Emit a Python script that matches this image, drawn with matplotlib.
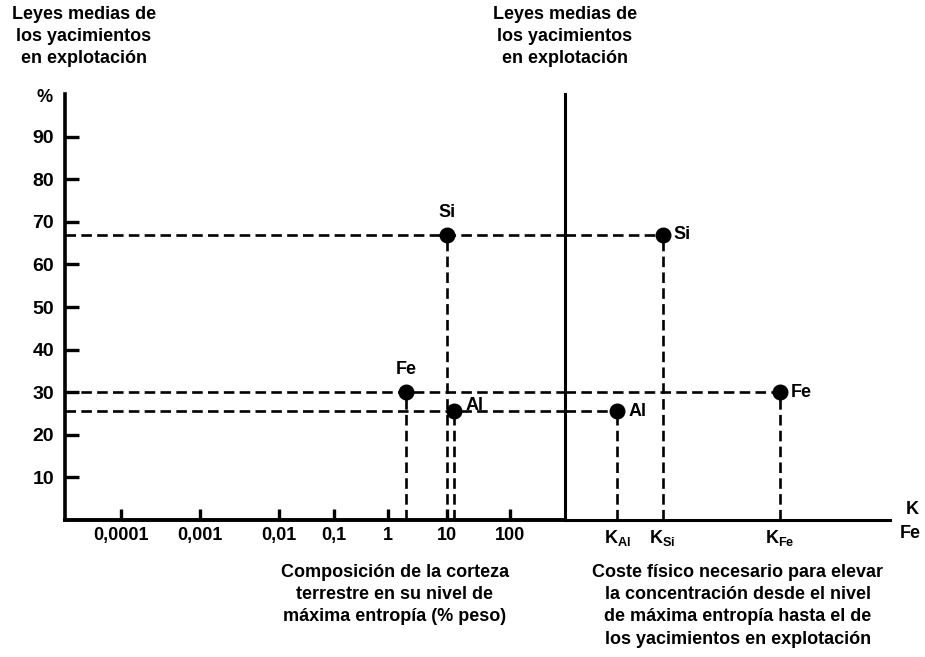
import matplotlib.pyplot as plt
import numpy as np

plt.rcParams['font.family'] = ['Liberation Sans', 'DejaVu Sans']
plt.rcParams['font.weight'] = 'bold'
plt.rcParams['mathtext.default'] = 'regular'

# datos
elementos = ["Si", "Fe", "Al"]
ley_media = [67, 30, 25.5]          # % en yacimientos en explotacion
corteza = [10, 2, 13]               # % peso en la corteza (nivel de maxima entropia)
coste_k = [3.0, 6.6, 1.6]           # coste fisico K (unidades arbitrarias)
k_labels = ["K$_{Si}$", "K$_{Fe}$", "K$_{Al}$"]

y_ticks = [10, 20, 30, 40, 50, 60, 70, 80, 90]
x_ticks = [0.0001, 0.001, 0.01, 0.1, 1, 10, 100]
x_ticklabels = ["0,0001", "0,001", "0,01", "0,1", "1", "10", "100"]

# escala dibujada a mano: posicion de cada decada en el original
dec_log = np.array([-5, -4, -3, -2, -1, 0, 1, 2, 3])
dec_pos = np.array([42, 121, 200, 279, 334, 388, 447, 510, 573])


def fwd(x):
    x = np.clip(np.asarray(x, dtype=float), 1e-12, None)
    return np.interp(np.log10(x), dec_log, dec_pos)


def inv(p):
    return 10 ** np.interp(p, dec_pos, dec_log)


W, H = 925, 657
fig = plt.figure(figsize=(W / 100, H / 100), dpi=100)

x0, xv, xe = 65, 565, 890
ytop, ybot = 94, 520
ax1 = fig.add_axes([x0 / W, 1 - ybot / H, (xv - x0) / W, (ybot - ytop) / H])
ax2 = fig.add_axes([xv / W, 1 - ybot / H, (xe - xv) / W, (ybot - ytop) / H], sharey=ax1)

dash = (0, (4, 2))
lw_d = 1.9
fs = 13

ax1.set_xscale('function', functions=(fwd, inv))
ax1.set_xlim(inv(x0), inv(xv))
ax1.set_ylim(0, 100)
ax2.set_xlim(0, 10)

for ax in (ax1, ax2):
    ax.patch.set_alpha(0)
    ax.spines['top'].set_visible(False)
    ax.spines['right'].set_visible(False)

ax1.spines['left'].set_linewidth(2.6)
ax1.spines['bottom'].set_linewidth(2.8)
ax2.spines['left'].set_linewidth(2.2)
ax2.spines['bottom'].set_linewidth(2.2)

ax1.set_yticks(y_ticks)
ax1.tick_params(axis='y', direction='in', length=10, width=2.4, pad=8, labelsize=14)
ax1.set_xticks(x_ticks)
ax1.set_xticklabels(x_ticklabels)
ax1.minorticks_off()
ax1.tick_params(axis='x', direction='in', length=8, width=2.4, pad=5, labelsize=13)

ax2.tick_params(axis='y', left=False, labelleft=False)
ax2.set_xticks(coste_k)
ax2.set_xticklabels(k_labels)
ax2.tick_params(axis='x', direction='in', length=0, pad=6, labelsize=13)

for nombre, ley, c, k in zip(elementos, ley_media, corteza, coste_k):
    ax1.axhline(ley, color='black', lw=lw_d, ls=dash)
    ax1.plot([c, c], [0, ley], color='black', lw=lw_d, ls=dash)
    ax1.plot(c, ley, 'o', color='black', ms=10.5)
    ax2.plot([0, k], [ley, ley], color='black', lw=lw_d, ls=dash)
    ax2.plot([k, k], [0, ley], color='black', lw=lw_d, ls=dash)
    ax2.plot(k, ley, 'o', color='black', ms=10.5)
    ax2.annotate(nombre, (k, ley), xytext=(8, 0), textcoords='offset points',
                 ha='left', va='center', fontsize=fs)
    if nombre == "Al":
        ax1.annotate(nombre, (c, ley), xytext=(8, 4), textcoords='offset points',
                     ha='left', va='center', fontsize=fs)
    else:
        ax1.annotate(nombre, (c, ley), xytext=(0, 10), textcoords='offset points',
                     ha='center', va='bottom', fontsize=fs)

fig.text(45 / W, 1 - 98 / H, "%", ha='center', va='center', fontsize=fs)
fig.text(84 / W, 1 - 6 / H, "Leyes medias de\nlos yacimientos\nen explotación",
         ha='center', va='top', fontsize=fs, linespacing=1.4)
fig.text(565 / W, 1 - 6 / H, "Leyes medias de\nlos yacimientos\nen explotación",
         ha='center', va='top', fontsize=fs, linespacing=1.4)
fig.text(912 / W, 1 - 510 / H, "K", ha='center', va='center', fontsize=fs)
fig.text(910 / W, 1 - 534 / H, "Fe", ha='center', va='center', fontsize=fs)
fig.text(395 / W, 1 - 564 / H,
         "Composición de la corteza\nterrestre en su nivel de\nmáxima entropía (% peso)",
         ha='center', va='top', fontsize=fs, linespacing=1.4)
fig.text(738 / W, 1 - 564 / H,
         "Coste físico necesario para elevar\nla concentración desde el nivel\n"
         "de máxima entropía hasta el de\nlos yacimientos en explotación",
         ha='center', va='top', fontsize=fs, linespacing=1.4)

fig.savefig("out.png", dpi=100)
